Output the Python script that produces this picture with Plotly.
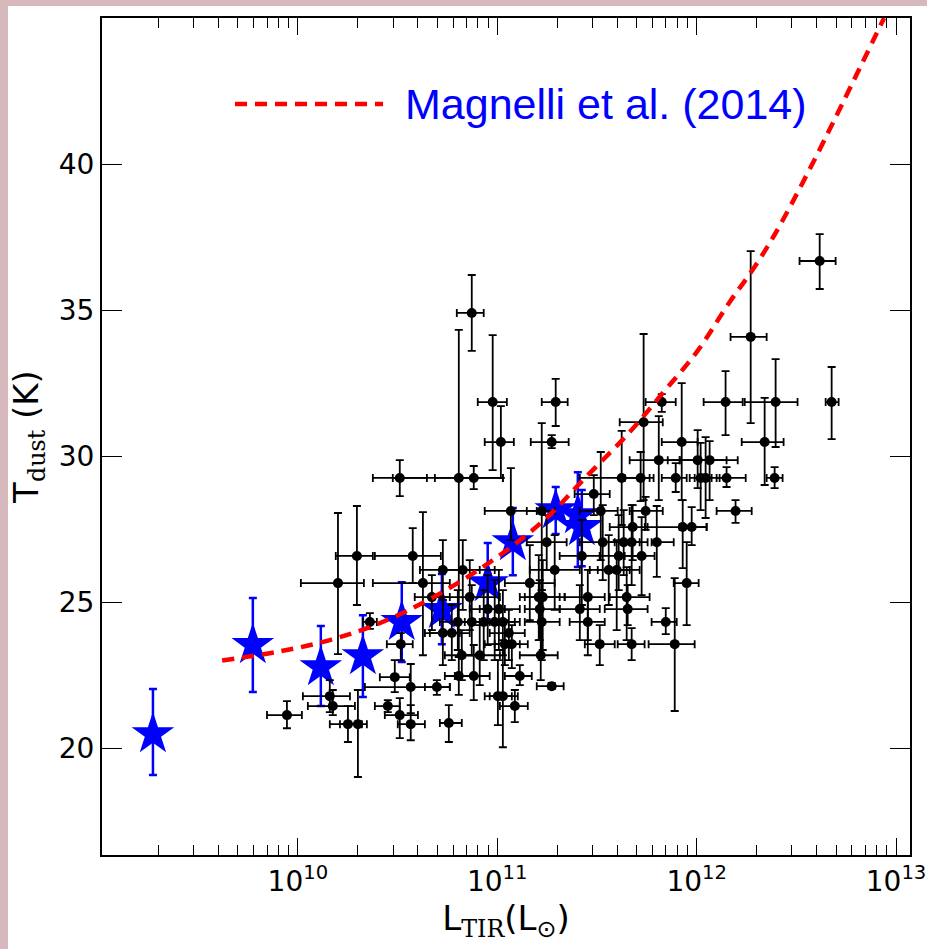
import numpy as np
import plotly.graph_objects as go

# ---------------- data ----------------
# Individual galaxies: log10 L_TIR (Lsun), its lower/upper bounds, T_dust (K) and its lower/upper bounds
gal_logL = [10.511, 10.807, 10.882, 10.872, 10.977, 11.018, 11.293, 11.273, 11.825, 11.734,
            12.271, 12.145, 12.396, 12.677, 12.617, 12.341, 12.391, 12.195, 11.925, 11.810,
            12.005, 12.065, 11.719, 11.895, 12.020, 12.045, 12.150, 11.624, 11.484, 11.519,
            11.068, 11.744, 11.679, 11.930, 11.975, 11.248, 11.529, 11.634, 11.674, 11.800,
            11.424, 11.609, 11.724, 10.727, 10.827, 11.288, 11.559, 11.599, 11.163, 11.950,
            10.862, 11.208, 11.228, 11.454, 11.649, 10.952, 11.008, 11.213, 11.414, 11.654,
            11.845, 10.802, 10.872, 10.932, 10.987, 11.028, 11.223, 11.454, 10.727, 10.772,
            11.058, 11.038, 11.073, 11.514, 11.674, 11.890, 10.822, 10.912, 11.218, 10.807,
            10.882, 11.113, 11.273, 11.003, 11.028, 11.088, 10.757, 10.296, 10.576, 10.201,
            10.627, 10.672, 10.361, 10.516, 10.486, 10.566, 10.697, 10.160, 10.175, 10.451,
            9.945, 10.511, 10.251, 10.301, 10.566, 11.223]
gal_logL_lo = [10.376, 10.476, 10.687, 10.797, 10.902, 10.937, 11.223, 11.168, 11.744, 11.614,
               12.170, 12.035, 12.241, 12.647, 12.516, 12.226, 12.351, 12.100, 11.825, 11.664,
               11.855, 11.915, 11.639, 11.825, 11.965, 11.990, 12.100, 11.414, 11.388, 11.414,
               10.937, 11.664, 11.564, 11.740, 11.915, 11.148, 11.414, 11.539, 11.589, 11.774,
               11.313, 11.514, 11.639, 10.612, 10.712, 11.163, 11.464, 11.504, 11.038, 11.885,
               10.712, 11.113, 11.138, 11.338, 11.564, 10.862, 10.912, 11.138, 11.313, 11.539,
               11.774, 10.712, 10.787, 10.837, 10.912, 10.937, 11.138, 11.363, 10.637, 10.662,
               10.962, 10.937, 10.987, 11.439, 11.604, 11.759, 10.737, 10.812, 11.113, 10.737,
               10.787, 11.038, 11.198, 10.937, 10.962, 11.013, 10.712, 10.190, 10.386, 10.015,
               10.376, 10.586, 10.326, 10.446, 10.411, 10.336, 10.637, 10.025, 10.050, 10.386,
               9.845, 10.436, 10.160, 10.211, 10.501, 11.148]
gal_logL_hi = [10.647, 11.028, 11.028, 10.932, 11.048, 11.083, 11.353, 11.358, 11.895, 11.830,
               12.351, 12.231, 12.506, 12.712, 12.697, 12.436, 12.431, 12.276, 12.005, 11.915,
               12.150, 12.206, 11.784, 11.950, 12.075, 12.115, 12.246, 11.764, 11.564, 11.604,
               11.198, 11.830, 11.754, 12.050, 12.050, 11.348, 11.639, 11.714, 11.754, 11.885,
               11.514, 11.714, 11.789, 10.912, 10.987, 11.414, 11.664, 11.714, 11.288, 12.010,
               11.013, 11.313, 11.338, 11.539, 11.764, 11.038, 11.113, 11.313, 11.514, 11.754,
               11.900, 10.887, 10.962, 11.038, 11.088, 11.113, 11.313, 11.539, 10.812, 10.862,
               11.138, 11.113, 11.153, 11.589, 11.739, 11.990, 10.912, 11.013, 11.303, 10.887,
               10.962, 11.173, 11.333, 11.073, 11.103, 11.153, 10.822, 10.376, 10.717, 10.331,
               10.762, 10.762, 10.396, 10.576, 10.561, 10.762, 10.762, 10.261, 10.286, 10.511,
               10.020, 10.602, 10.321, 10.346, 10.637, 11.288]
gal_T = [29.25, 29.25, 29.25, 34.90, 31.85, 30.48, 31.85, 30.48, 31.85, 31.16,
         34.08, 31.85, 31.85, 31.85, 36.68, 30.48, 29.25, 28.12, 30.48, 29.86,
         29.86, 29.86, 29.25, 29.25, 29.25, 29.25, 29.25, 29.25, 28.70, 28.12,
         28.12, 28.12, 27.57, 27.57, 27.57, 27.05, 27.05, 27.05, 27.05, 27.05,
         26.58, 26.58, 26.58, 26.10, 26.10, 26.10, 26.10, 26.10, 25.65, 25.65,
         25.17, 25.17, 25.17, 25.17, 25.17, 24.76, 24.76, 24.76, 24.76, 24.76,
         24.32, 24.32, 24.32, 24.32, 24.32, 24.32, 24.32, 24.32, 23.94, 23.94,
         23.94, 23.56, 23.56, 23.56, 23.56, 23.56, 23.18, 23.18, 23.18, 22.47,
         22.47, 22.47, 22.12, 21.78, 21.78, 21.44, 20.86, 26.58, 26.58, 25.65,
         25.65, 25.17, 24.32, 23.56, 22.43, 22.09, 22.09, 21.78, 21.44, 21.44,
         21.13, 21.13, 20.82, 20.82, 20.82, 28.12]
gal_T_lo = [28.63, 23.12, 28.87, 33.60, 29.52, 29.25, 31.03, 30.27, 31.51, 28.49,
            31.13, 30.72, 30.31, 30.58, 35.72, 29.01, 28.90, 27.71, 28.49, 28.49,
            28.90, 28.49, 28.46, 28.77, 28.15, 27.88, 28.94, 27.64, 27.98, 26.44,
            27.12, 27.47, 26.44, 26.16, 26.95, 26.10, 25.75, 25.92, 25.58, 25.86,
            24.90, 25.41, 25.24, 25.07, 24.73, 24.73, 24.90, 24.04, 24.38, 24.21,
            24.04, 23.70, 23.36, 23.70, 23.70, 23.53, 23.36, 23.70, 23.70, 24.21,
            23.90, 23.36, 23.18, 23.01, 23.01, 23.18, 23.01, 23.18, 22.84, 23.01,
            23.01, 22.84, 22.74, 22.84, 23.01, 21.27, 22.33, 22.16, 22.33, 21.82,
            21.64, 22.16, 22.02, 20.79, 20.03, 20.89, 20.21, 24.90, 25.65, 23.22,
            23.18, 24.04, 24.08, 23.01, 21.92, 21.20, 21.82, 21.23, 21.13, 21.23,
            20.68, 20.34, 20.21, 19.01, 20.27, 25.41]
gal_T_hi = [29.86, 34.32, 29.66, 36.20, 34.14, 31.71, 32.64, 30.72, 32.12, 34.18,
            37.02, 32.91, 33.32, 33.05, 37.60, 31.99, 29.62, 28.49, 32.50, 31.37,
            30.89, 30.51, 30.14, 29.76, 30.45, 30.65, 29.62, 30.86, 29.35, 30.14,
            29.59, 28.60, 28.32, 28.49, 28.25, 27.98, 28.32, 28.15, 28.32, 28.29,
            27.81, 27.98, 27.91, 27.12, 27.12, 27.29, 27.29, 27.12, 26.95, 27.05,
            26.44, 26.61, 26.44, 26.10, 26.20, 25.92, 26.10, 25.75, 25.58, 25.58,
            24.79, 25.41, 25.58, 25.41, 25.75, 25.41, 25.41, 25.24, 25.07, 24.90,
            24.73, 24.38, 24.21, 24.21, 24.11, 25.82, 24.04, 24.21, 25.07, 23.36,
            23.53, 22.84, 22.23, 23.01, 23.70, 21.99, 21.47, 28.29, 27.53, 28.05,
            28.08, 25.92, 24.62, 23.94, 23.01, 22.88, 22.33, 22.33, 21.99, 21.64,
            21.61, 21.71, 21.44, 21.99, 21.47, 31.13]

# Stacked / binned points (blue stars)
stack_logL = [9.273, 9.774, 10.115, 10.326, 10.521, 10.722, 10.952, 11.078, 11.293, 11.404, 11.424]
stack_T = [20.48, 23.53, 22.77, 23.15, 24.32, 24.73, 25.65, 27.05, 28.15, 27.98, 27.57]
stack_T_lo = [19.08, 21.92, 21.44, 21.75, 22.95, 23.56, 24.28, 25.92, 27.33, 26.20, 26.23]
stack_T_hi = [22.02, 25.14, 24.18, 24.55, 25.68, 25.96, 27.02, 28.22, 28.94, 29.45, 28.84]

# Magnelli et al. (2014) relation
mag_logL = [9.62, 9.90, 10.16, 10.40, 10.68, 11.00, 11.25, 11.43, 11.664, 11.83,
            12.00, 12.165, 12.28, 12.39, 12.58, 12.94]
mag_T = [23.0, 23.3, 23.7, 24.25, 25.17, 26.54, 27.9, 29.18, 30.82, 32.16,
         33.56, 35.27, 36.37, 37.57, 40.0, 45.0]

x_major_ticks = [1e10, 1e11, 1e12, 1e13]
x_tick_text = ["10<sup>10</sup>", "10<sup>11</sup>", "10<sup>12</sup>", "10<sup>13</sup>"]
y_ticks = [20, 25, 30, 35, 40]
legend_label = "Magnelli et al. (2014)"

# ---------------- derived arrays ----------------
gL = 10 ** np.array(gal_logL)
gL_lo = 10 ** np.array(gal_logL_lo)
gL_hi = 10 ** np.array(gal_logL_hi)
gT = np.array(gal_T)
sL = 10 ** np.array(stack_logL)
sT = np.array(stack_T)
mL = 10 ** np.array(mag_logL)

fig = go.Figure()

fig.add_trace(go.Scatter(
    x=sL, y=sT, mode="markers",
    marker=dict(symbol="star", size=32, color="#0000ff", line=dict(width=0)),
    error_y=dict(type="data", symmetric=False,
                 array=np.array(stack_T_hi) - sT, arrayminus=sT - np.array(stack_T_lo),
                 color="#0000ff", thickness=2.5, width=4),
    showlegend=False, hoverinfo="skip"))

fig.add_trace(go.Scatter(
    x=gL, y=gT, mode="markers",
    marker=dict(symbol="circle", size=10, color="black", line=dict(width=0)),
    error_x=dict(type="data", symmetric=False, array=gL_hi - gL, arrayminus=gL - gL_lo,
                 color="black", thickness=1.8, width=4),
    error_y=dict(type="data", symmetric=False,
                 array=np.array(gal_T_hi) - gT, arrayminus=gT - np.array(gal_T_lo),
                 color="black", thickness=1.8, width=4),
    showlegend=False, hoverinfo="skip"))

fig.add_trace(go.Scatter(
    x=mL, y=mag_T, mode="lines", line=dict(color="#ff0000", width=4.5, dash="12px,8px", shape="spline"),
    showlegend=False, hoverinfo="skip"))

# legend drawn by hand (long dashed sample + blue text)
fig.add_shape(type="line", xref="paper", yref="paper", x0=0.1646, x1=0.3478, y0=0.8973, y1=0.8973,
              line=dict(color="#ff0000", width=4.5, dash="12px,8px"))
fig.add_annotation(xref="paper", yref="paper", x=0.373, y=0.8973, xanchor="left", yanchor="middle",
                   text=legend_label, showarrow=False,
                   font=dict(family="Liberation Sans, Arial", size=43, color="#0000ff"))

# white page over textured pink background
fig.add_shape(type="rect", xref="paper", yref="paper", x0=-0.1163, x1=1.05, y0=-0.15, y1=1.0143,
              fillcolor="white", line=dict(width=0), layer="below")

axis_font = dict(family="DejaVu Sans", size=28, color="black")
serif = "font-family:'DejaVu Serif'"

fig.update_layout(
    width=927, height=949, autosize=False,
    margin=dict(l=102, r=17, t=18, b=94, autoexpand=False),
    paper_bgcolor="#d6b8bd", plot_bgcolor="white",
    font=dict(family="DejaVu Sans", color="black"),
    xaxis=dict(type="log", range=[9.0175, 13.07], tickvals=x_major_ticks, ticktext=x_tick_text,
               ticklabeloverflow="allow", automargin=False,
               ticks="inside", ticklen=17, tickwidth=1.2, tickcolor="black",
               showline=True, linecolor="black", linewidth=2, mirror="allticks",
               showgrid=False, zeroline=False, tickfont=axis_font,
               minor=dict(ticks="inside", ticklen=10, tickwidth=1.2, tickcolor="black",
                          dtick="D1", showgrid=False),
               title=dict(text=f"L<sub><span style=\"{serif}\">TIR</span></sub>(L<sub>⊙</sub>)",
                          font=dict(family="DejaVu Sans", size=34), standoff=8)),
    yaxis=dict(range=[16.34, 45.0], tickvals=y_ticks, automargin=False,
               ticks="inside", ticklen=20, tickwidth=1.2, tickcolor="black",
               showline=True, linecolor="black", linewidth=2, mirror="allticks",
               showgrid=False, zeroline=False, tickfont=axis_font,
               title=dict(text=f"T<sub><span style=\"{serif}\">dust</span></sub> (K)",
                          font=dict(family="DejaVu Sans", size=34), standoff=10)),
)

fig.write_html("out.html")
